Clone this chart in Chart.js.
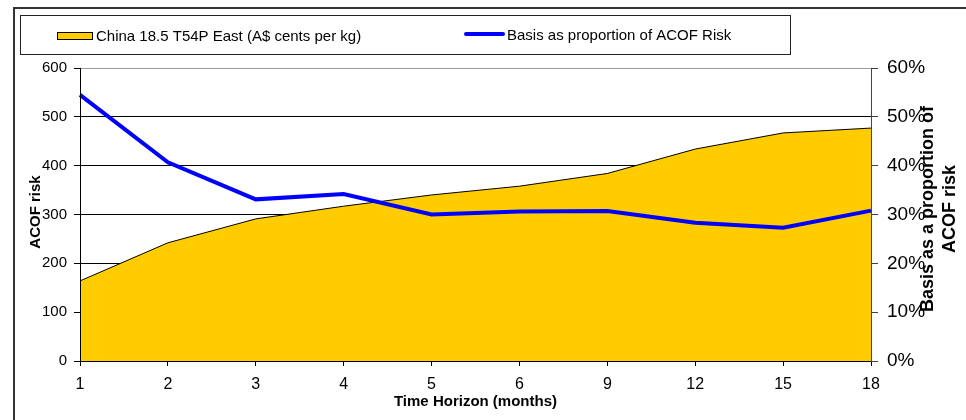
<!DOCTYPE html>
<html lang="en">
<head>
  <meta charset="UTF-8">
  <title>ACOF risk vs time horizon</title>
  <script src="https://cdn.jsdelivr.net/npm/chart.js@4.4.1/dist/chart.umd.min.js"></script>
  <style>
    html, body { margin: 0; padding: 0; background: #fff; }
    #wrap { width: 966px; height: 420px; }
  </style>
</head>
<body>
  <div id="wrap"><canvas id="chart" width="966" height="420"></canvas></div>
  <script>
    // ---- data ----
    const months = ['1', '2', '3', '4', '5', '6', '9', '12', '15', '18'];
    const chinaPrice = [164, 242, 291, 317, 340, 358, 384, 434, 467, 477];   // A$ cents per kg (left axis)
    const basisShare = [54.5, 40.7, 33.1, 34.2, 30.0, 30.6, 30.7, 28.3, 27.3, 30.8]; // % (right axis)
    const leftTicks = [0, 100, 200, 300, 400, 500, 600];
    const rightTicks = [0, 10, 20, 30, 40, 50, 60];

    const FONT = '"Liberation Sans", Arial, sans-serif';

    // frame, legend box and axis titles (Excel-style layout)
    const decorations = {
      id: 'decorations',
      afterDraw(chart) {
        const ctx = chart.ctx;
        const area = chart.chartArea;
        ctx.save();

        // outer chart frame (only top/left edges fall inside the picture)
        ctx.strokeStyle = '#333';
        ctx.lineWidth = 2;
        ctx.strokeRect(14, 8, 1000, 500);

        // legend box
        ctx.strokeStyle = '#222';
        ctx.lineWidth = 1;
        ctx.strokeRect(20.5, 15.5, 770, 39);

        // area swatch
        ctx.fillStyle = '#FFCC00';
        ctx.fillRect(57, 32, 36, 8);
        ctx.strokeStyle = '#000';
        ctx.strokeRect(57.5, 32.5, 35, 7);

        // line swatch
        ctx.strokeStyle = '#0000FF';
        ctx.lineWidth = 4;
        ctx.lineCap = 'round';
        ctx.beginPath();
        ctx.moveTo(466, 34);
        ctx.lineTo(503, 34);
        ctx.stroke();

        ctx.fillStyle = '#000';
        ctx.font = '15px ' + FONT;
        ctx.textBaseline = 'middle';
        ctx.textAlign = 'left';
        ctx.fillText('China 18.5 T54P East (A$ cents per kg)', 96, 37);
        ctx.fillText('Basis as proportion of ACOF Risk', 507, 36);

        // x axis title
        ctx.font = 'bold 15px ' + FONT;
        ctx.textAlign = 'center';
        ctx.fillText('Time Horizon (months)', (area.left + area.right) / 2, 402);

        // left axis title
        ctx.save();
        ctx.translate(36, 212);
        ctx.rotate(-Math.PI / 2);
        ctx.fillText('ACOF risk', 0, 0);
        ctx.restore();

        // right axis title, two lines, reading bottom to top
        ctx.font = 'bold 18px ' + FONT;
        ctx.save();
        ctx.translate(928, 209);
        ctx.rotate(-Math.PI / 2);
        ctx.fillText('Basis as a proportion of', 0, 0);
        ctx.fillText('ACOF risk', 0, 22);
        ctx.restore();

        ctx.restore();
      }
    };

    new Chart(document.getElementById('chart'), {
      type: 'line',
      data: {
        labels: months,
        datasets: [
          {
            label: 'Basis as proportion of ACOF Risk',
            data: basisShare,
            yAxisID: 'y1',
            borderColor: '#0000FF',
            borderWidth: 4,
            pointRadius: 0,
            tension: 0,
            fill: false,
            order: 0
          },
          {
            label: 'China 18.5 T54P East (A$ cents per kg)',
            data: chinaPrice,
            yAxisID: 'y',
            borderColor: '#000',
            borderWidth: 1,
            backgroundColor: '#FFCC00',
            pointRadius: 0,
            tension: 0,
            fill: 'origin',
            order: 1
          }
        ]
      },
      options: {
        responsive: false,
        animation: false,
        devicePixelRatio: 1,
        layout: { padding: { top: 68, left: 0, right: 0, bottom: 0 } },
        plugins: {
          legend: { display: false },
          tooltip: { enabled: false }
        },
        scales: {
          x: {
            type: 'category',
            offset: false,
            grid: { drawOnChartArea: false, drawTicks: true, tickLength: 5, tickColor: '#000' },
            border: { color: '#000', width: 1, z: 1 },
            ticks: { color: '#000', font: { family: FONT, size: 16 }, padding: 9, maxRotation: 0, autoSkip: false },
            afterFit(scale) { scale.height = 59; }
          },
          y: {
            position: 'left',
            min: leftTicks[0],
            max: leftTicks[leftTicks.length - 1],
            grid: {
              color: (c) => (c.tick && c.tick.value === 600 ? '#9a9a9a' : '#000'),
              tickColor: '#000',
              tickLength: 6,
              lineWidth: 1
            },
            border: { color: '#000', width: 1, z: 1 },
            ticks: { stepSize: 100, color: '#000', font: { family: FONT, size: 15 }, padding: 7 },
            afterFit(scale) { scale.width = 80; }
          },
          y1: {
            position: 'right',
            min: rightTicks[0],
            max: rightTicks[rightTicks.length - 1],
            grid: { drawOnChartArea: false, tickColor: '#444', tickLength: 7 },
            border: { color: '#444', width: 1, z: 1 },
            ticks: {
              stepSize: 10,
              color: '#000',
              font: { family: FONT, size: 19 },
              padding: 9,
              callback: (v) => v + '%'
            },
            afterFit(scale) { scale.width = 95; }
          }
        }
      },
      plugins: [decorations]
    });
  </script>
</body>
</html>
